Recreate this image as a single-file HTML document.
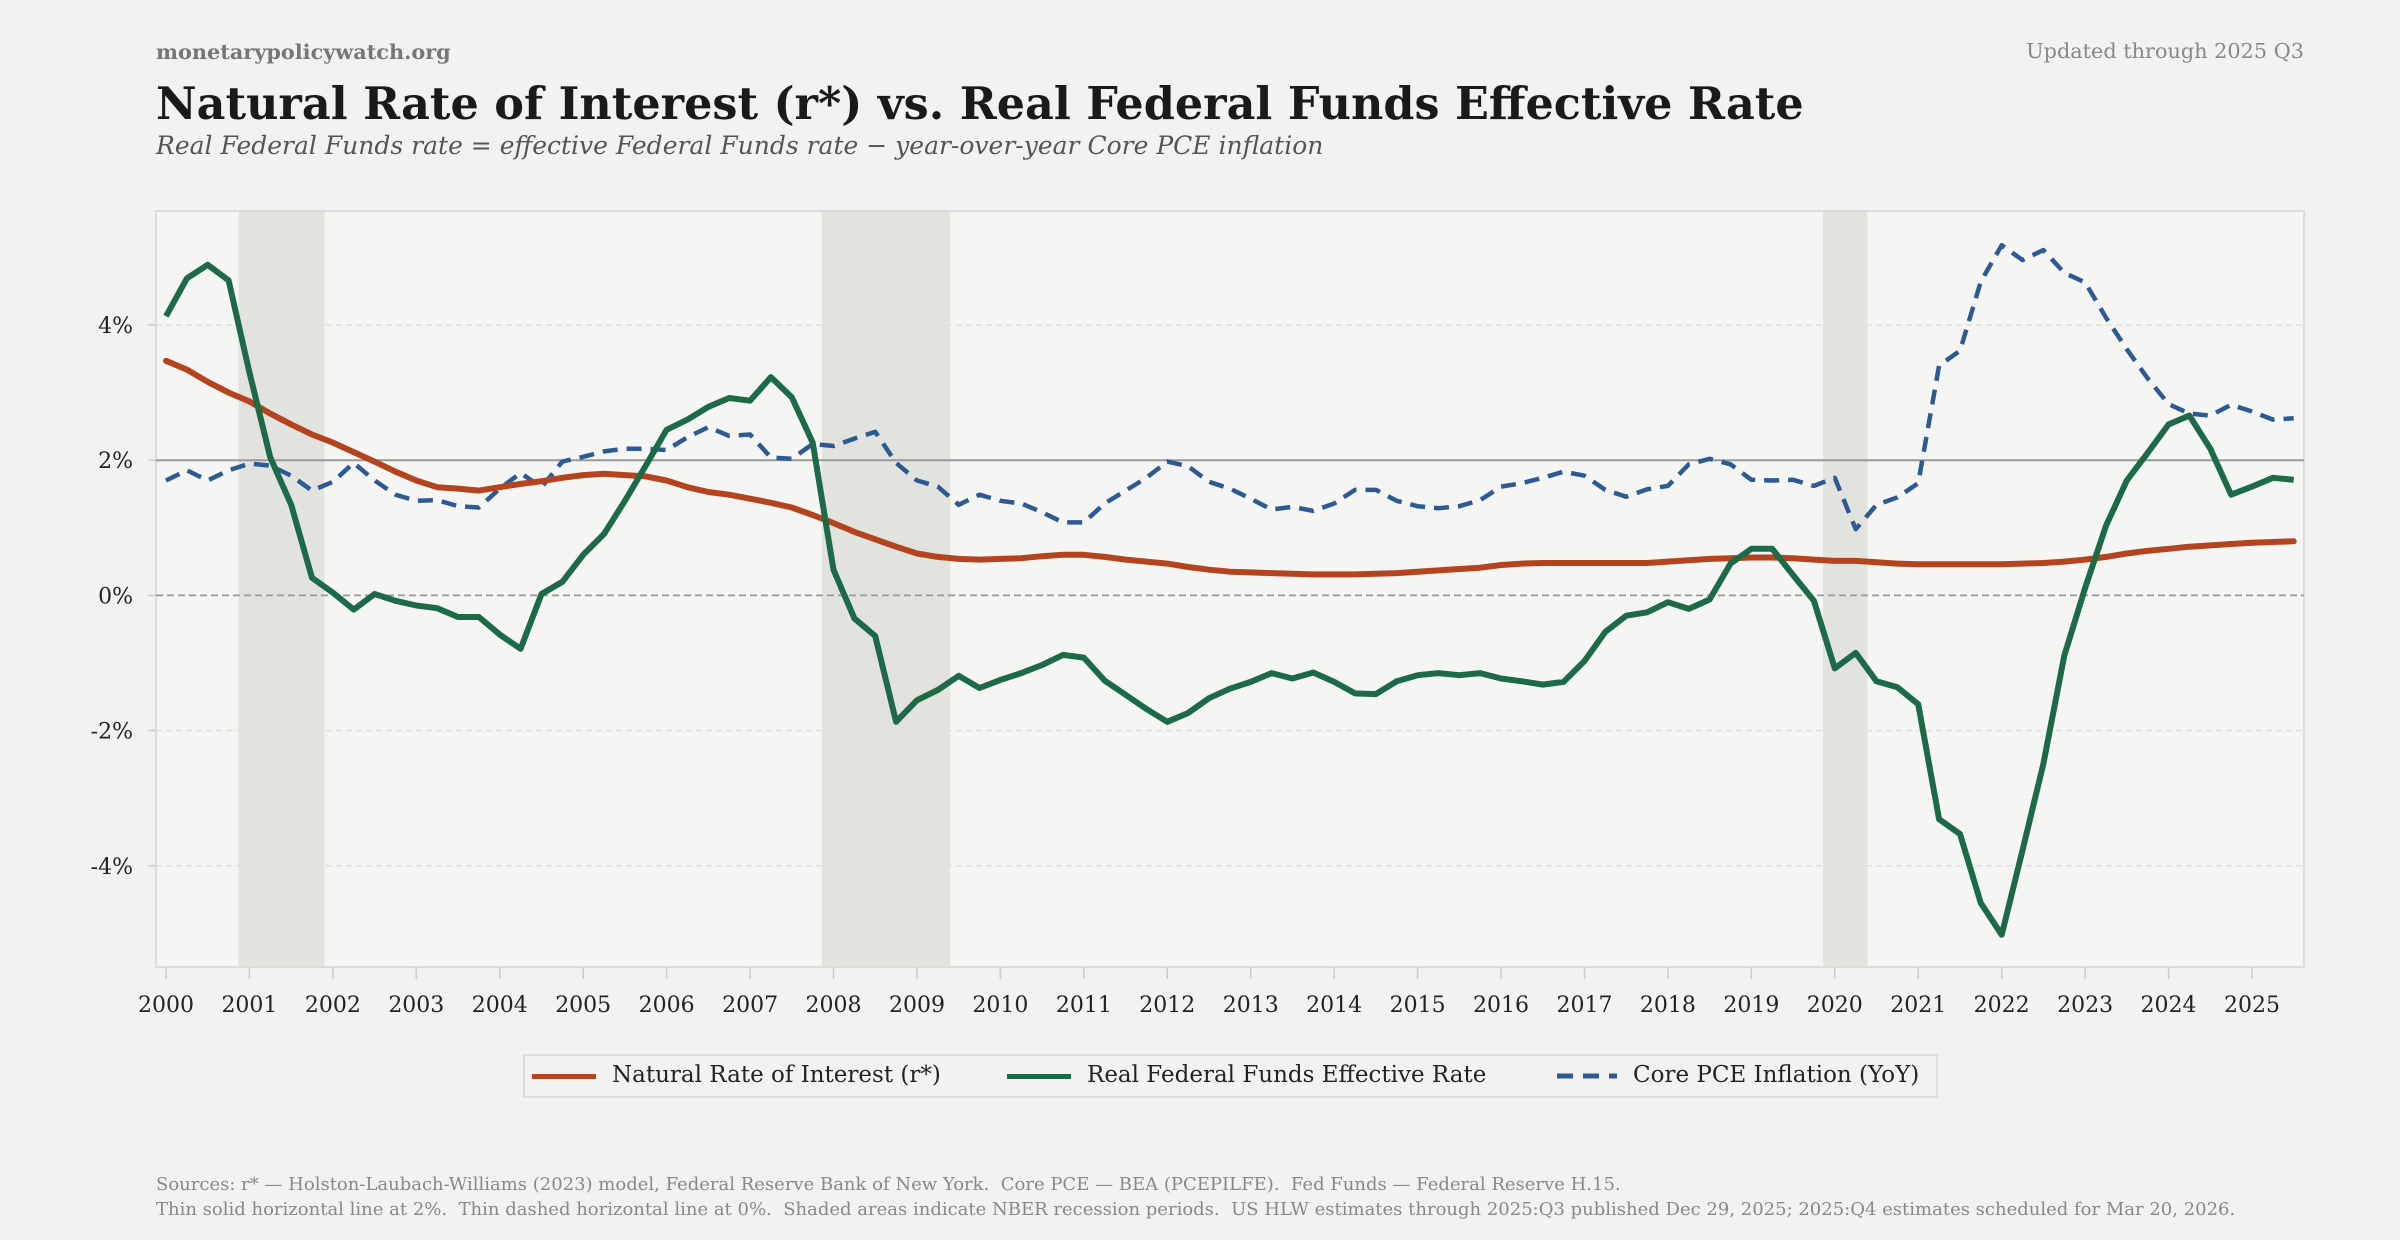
<!DOCTYPE html>
<html><head><meta charset="utf-8">
<style>
html,body{margin:0;padding:0;background:#f2f2f0;}
body{width:2400px;height:1240px;overflow:hidden;position:relative;font-family:"DejaVu Serif","Liberation Serif",serif;}
.t{position:absolute;white-space:nowrap;}
</style></head>
<body>
<div class="t" style="left:156px;top:39px;font-size:20.8px;font-weight:bold;color:#777;">monetarypolicywatch.org</div>
<div class="t" style="right:96px;top:39px;font-size:20.8px;color:#888;">Updated through 2025 Q3</div>
<div class="t" style="left:156px;top:78px;font-size:44.5px;font-weight:bold;color:#1a1a1a;">Natural Rate of Interest (r*) vs. Real Federal Funds Effective Rate</div>
<div class="t" style="left:156px;top:131px;font-size:25px;font-style:italic;color:#555;">Real Federal Funds rate = effective Federal Funds rate − year-over-year Core PCE inflation</div>

<svg id="chart" width="2400" height="1240" style="position:absolute;left:0;top:0;" xmlns="http://www.w3.org/2000/svg"></svg>

<div class="t" style="left:523px;top:1054px;width:1411px;height:40px;border:2px solid #dcdcdc;background:#f2f2f0;font-size:23px;color:#222;">
  <span style="position:absolute;left:7px;top:6px;"><span style="display:inline-block;width:64px;height:5px;background:#b4441f;vertical-align:middle;margin-right:16px;"></span>Natural Rate of Interest (r*)</span>
  <span style="position:absolute;left:482px;top:6px;"><span style="display:inline-block;width:64px;height:5px;background:#1d6a47;vertical-align:middle;margin-right:16px;"></span>Real Federal Funds Effective Rate</span>
  <span style="position:absolute;left:1030px;top:6px;"><svg width="64" height="8" style="vertical-align:middle;margin-right:14px;"><line x1="2" y1="4" x2="62" y2="4" stroke="#2e5a94" stroke-width="5" stroke-dasharray="16,10"/></svg>Core PCE Inflation (YoY)</span>
</div>

<div class="t" style="left:156px;top:1174px;font-size:18px;color:#888;">Sources: r* — Holston-Laubach-Williams (2023) model, Federal Reserve Bank of New York.&nbsp; Core PCE — BEA (PCEPILFE).&nbsp; Fed Funds — Federal Reserve H.15.</div>
<div class="t" style="left:156px;top:1199px;font-size:18px;color:#888;">Thin solid horizontal line at 2%.&nbsp; Thin dashed horizontal line at 0%.&nbsp; Shaded areas indicate NBER recession periods.&nbsp; US HLW estimates through 2025:Q3 published Dec 29, 2025; 2025:Q4 estimates scheduled for Mar 20, 2026.</div>

<script>
const startYear = 2000;
const yearTicks = [2000,2001,2002,2003,2004,2005,2006,2007,2008,2009,2010,2011,2012,2013,2014,2015,2016,2017,2018,2019,2020,2021,2022,2023,2024,2025];
const yTicks = [4,2,0,-2,-4];
const yTickLabels = ["4%","2%","0%","-2%","-4%"];
const recessionStarts = [2000.87, 2007.86, 2019.86];
const recessionEnds = [2001.9, 2009.4, 2020.39];
const rStar = [3.47,3.34,3.16,3.0, 2.87,2.69,2.53,2.38, 2.26,2.12,1.98,1.83, 1.7,1.6,1.58,1.55, 1.6,1.65,1.69,1.74, 1.78,1.8,1.78,1.76, 1.7,1.6,1.53,1.49, 1.43,1.37,1.3,1.19, 1.07,0.94,0.83,0.72, 0.62,0.57,0.54,0.53, 0.54,0.55,0.58,0.6, 0.6,0.57,0.53,0.5, 0.47,0.42,0.38,0.35, 0.34,0.33,0.32,0.31, 0.31,0.31,0.32,0.33, 0.35,0.37,0.39,0.41, 0.45,0.47,0.48,0.48, 0.48,0.48,0.48,0.48, 0.5,0.52,0.54,0.55, 0.56,0.56,0.55,0.53, 0.51,0.51,0.49,0.47, 0.46,0.46,0.46,0.46, 0.46,0.47,0.48,0.5, 0.53,0.57,0.62,0.66, 0.69,0.72,0.74,0.76, 0.78,0.79,0.8];
const realFFR = [4.13,4.69,4.89,4.66, 3.3,2.04,1.34,0.26, 0.04,-0.21,0.02,-0.08, -0.15,-0.19,-0.32,-0.32, -0.58,-0.79,0.02,0.2, 0.6,0.91,1.4,1.92, 2.45,2.6,2.79,2.92, 2.88,3.23,2.93,2.26, 0.38,-0.34,-0.6,-1.87, -1.55,-1.4,-1.19,-1.37, -1.25,-1.15,-1.03,-0.88, -0.92,-1.26,-1.47,-1.68, -1.87,-1.74,-1.52,-1.38, -1.28,-1.15,-1.23,-1.14, -1.28,-1.45,-1.46,-1.27, -1.18,-1.15,-1.18,-1.15, -1.23,-1.27,-1.32,-1.28, -0.97,-0.54,-0.3,-0.25, -0.1,-0.2,-0.06,0.47, 0.69,0.69,0.3,-0.08, -1.08,-0.85,-1.27,-1.36, -1.61,-3.31,-3.53,-4.55, -5.02,-3.77,-2.49,-0.89, 0.11,1.03,1.7,2.11, 2.53,2.66,2.17,1.49, 1.61,1.74,1.71];
const corePCE = [1.7,1.85,1.7,1.85, 1.95,1.92,1.77,1.55, 1.68,1.96,1.7,1.49, 1.4,1.41,1.32,1.3, 1.58,1.81,1.6,1.98, 2.05,2.13,2.17,2.17, 2.15,2.34,2.49,2.36, 2.38,2.04,2.02,2.24, 2.21,2.32,2.42,1.96, 1.7,1.61,1.34,1.49, 1.4,1.36,1.23,1.08, 1.08,1.36,1.55,1.74, 1.98,1.91,1.68,1.58, 1.43,1.27,1.31,1.25, 1.36,1.56,1.56,1.4, 1.32,1.29,1.32,1.41, 1.61,1.66,1.74,1.83, 1.77,1.56,1.46,1.57, 1.62,1.94,2.02,1.94, 1.71,1.7,1.71,1.62, 1.74,0.98,1.34,1.45, 1.66,3.4,3.62,4.64, 5.18,4.96,5.11,4.77, 4.63,4.11,3.64,3.21, 2.83,2.69,2.66,2.82, 2.72,2.6,2.62];

const NS = "http://www.w3.org/2000/svg";
const svg = document.getElementById('chart');
const PL = 156, PR = 2304, PT = 211, PB = 967;
function xScale(yr){ return 166 + 83.44*(yr-2000); }
function yScale(v){ return 595.4 - 67.6*v; }
function mk(tag, attrs, parent){ const e=document.createElementNS(NS,tag); for(const k in attrs) e.setAttribute(k,attrs[k]); (parent||svg).appendChild(e); return e; }

const bg = mk('rect',{x:PL,y:PT,width:PR-PL,height:PB-PT,fill:'#f5f6f3',stroke:'#dcdcdc','stroke-width':2});



recessionStarts.forEach((s,i)=>{
  const r = mk('rect',{x:xScale(s),y:PT+1,width:xScale(recessionEnds[i])-xScale(s),height:PB-PT-2,fill:'#e2e3de'});
  
  
});

yTicks.forEach((v,i)=>{
  const y = yScale(v);
  if(v!==0 && v!==2){
    const g = mk('line',{x1:PL,x2:PR,y1:y,y2:y,stroke:'#e0e0dc','stroke-width':1.5,'stroke-dasharray':'6,4'});
    
    
  }
  mk('line',{x1:PL-8,x2:PL,y1:y,y2:y,stroke:'#cccccc','stroke-width':1.5});
  const t = mk('text',{x:133,y:y+8,'text-anchor':'end','font-size':22,fill:'#222','font-family':'DejaVu Serif, Liberation Serif, serif'});
  t.textContent = yTickLabels[i];
  
  
});

const ref2 = mk('line',{x1:PL,x2:PR,y1:yScale(2),y2:yScale(2),stroke:'#999','stroke-width':2});


const ref0 = mk('line',{x1:PL,x2:PR,y1:yScale(0),y2:yScale(0),stroke:'#999','stroke-width':1.8,'stroke-dasharray':'7,4'});



yearTicks.forEach(yr=>{
  const x = xScale(yr);
  mk('line',{x1:x,x2:x,y1:PB,y2:PB+12,stroke:'#cccccc','stroke-width':1.5});
  const t = mk('text',{x:x,y:1012,'text-anchor':'middle','font-size':22,fill:'#222','font-family':'DejaVu Serif, Liberation Serif, serif'});
  t.textContent = String(yr);
  
  
});

function pts(arr){ return arr.map((v,i)=> xScale(startYear + i/4).toFixed(1)+','+yScale(v).toFixed(1)).join(' '); }
const lb = mk('polyline',{points:pts(corePCE),fill:'none',stroke:'#2e5a94','stroke-width':4.5,'stroke-dasharray':'15,9','stroke-linejoin':'round'});


const lr = mk('polyline',{points:pts(rStar),fill:'none',stroke:'#b4441f','stroke-width':6,'stroke-linejoin':'round','stroke-linecap':'round'});


const lg = mk('polyline',{points:pts(realFFR),fill:'none',stroke:'#1d6a47','stroke-width':6,'stroke-linejoin':'round'});


</script>
</body></html>
